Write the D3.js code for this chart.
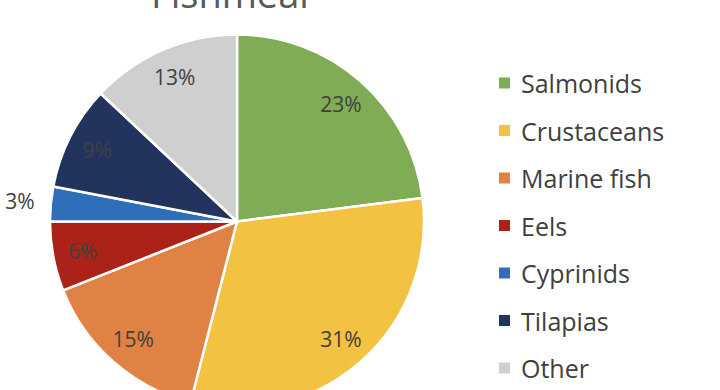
<!DOCTYPE html>
<html>
<head>
<meta charset="utf-8">
<script src="https://cdn.jsdelivr.net/npm/d3@7"></script>
<style>
  html, body { margin: 0; padding: 0; background: #fff; }
  svg { display: block; font-family: "Open Sans", "Noto Sans", sans-serif; }
</style>
</head>
<body>
<svg id="chart" width="720" height="390"></svg>
<script>
const TITLE = 'Fishmeal';
const categories = ['Salmonids', 'Crustaceans', 'Marine fish', 'Eels', 'Cyprinids', 'Tilapias', 'Other'];
const shares = [23, 31, 15, 6, 3, 9, 13];
const colors = ['#7fac55', '#f4c242', '#df8243', '#ad2218', '#2f6fba', '#22335e', '#d0cfd0'];
// slices drawn with the label outside the pie
const outsideLabels = ['Cyprinids'];

const CENTER = { x: 237, y: 221.5 };
const RADIUS = 187;

const svg = d3.select('#chart');

const data = categories.map((c, i) => ({ name: c, value: shares[i] }));

const pie = d3.pie()
  .sort(null)
  .value(d => d.value);

const arc = d3.arc()
  .innerRadius(0)
  .outerRadius(RADIUS);

const labelArc = d3.arc().innerRadius(157).outerRadius(157);
const outerLabelArc = d3.arc().innerRadius(218).outerRadius(218);

const color = d3.scaleOrdinal()
  .domain(categories)
  .range(colors);

const g = svg.append('g')
  .attr('transform', `translate(${CENTER.x}, ${CENTER.y})`);

const arcs = pie(data);

g.selectAll('path.slice')
  .data(arcs)
  .enter().append('path')
  .attr('class', 'slice')
  .attr('d', arc)
  .attr('fill', d => color(d.data.name))
  .attr('stroke', '#fff')
  .attr('stroke-width', 2.5)
  .attr('stroke-linejoin', 'round');

g.selectAll('text.pct')
  .data(arcs)
  .enter().append('text')
  .attr('class', 'pct')
  .attr('transform', d => {
    const a = outsideLabels.includes(d.data.name) ? outerLabelArc : labelArc;
    return `translate(${a.centroid(d)})`;
  })
  .attr('text-anchor', 'middle')
  .attr('dominant-baseline', 'central')
  .attr('font-size', 21)
  .attr('fill', '#404040')
  .text(d => d.data.value + '%');

// Title (cropped at the top of the picture, as in the source)
svg.append('text')
  .attr('x', 230)
  .attr('y', 7.5)
  .attr('text-anchor', 'middle')
  .attr('font-size', 38)
  .attr('fill', '#595959')
  .text(TITLE);

// Legend
const legend = svg.append('g')
  .attr('transform', 'translate(499, 83)');

const legendY = d3.scalePoint()
  .domain(categories)
  .range([0, 285]);

const item = legend.selectAll('g.item')
  .data(categories)
  .enter().append('g')
  .attr('class', 'item')
  .attr('transform', d => `translate(0, ${legendY(d)})`);

item.append('rect')
  .attr('x', 0)
  .attr('y', -5.5)
  .attr('width', 11)
  .attr('height', 11)
  .attr('fill', d => color(d));

item.append('text')
  .attr('x', 22)
  .attr('y', 0)
  .attr('dominant-baseline', 'central')
  .attr('font-size', 25)
  .attr('fill', '#404040')
  .text(d => d);
</script>
</body>
</html>
